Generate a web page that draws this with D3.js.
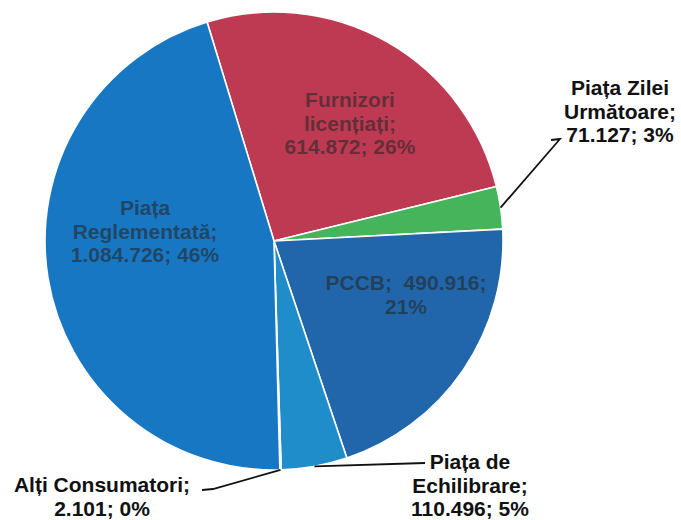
<!DOCTYPE html>
<html>
<head>
<meta charset="utf-8">
<script src="https://cdn.jsdelivr.net/npm/d3@7"></script>
<style>
  body { margin: 0; background: #fff; }
  svg { display: block; }
</style>
</head>
<body>
<svg id="chart"></svg>
<script>
// data, in clockwise order from the top
var names = ["Furnizori licențiați", "Piața Zilei Următoare", "PCCB", "Piața de Echilibrare", "Alți Consumatori", "Piața Reglementată"];
var values = [614872, 71127, 490916, 110496, 2101, 1084726];
var valueLabels = ["614.872", "71.127", "490.916", "110.496", "2.101", "1.084.726"];
var pctLabels = ["26%", "3%", "21%", "5%", "0%", "46%"];
var labelLines = [
  ["Furnizori", "licențiați;", "614.872; 26%"],
  ["Piața Zilei", "Următoare;", "71.127; 3%"],
  ["PCCB;  490.916;", "21%"],
  ["Piața de", "Echilibrare;", "110.496; 5%"],
  ["Alți Consumatori;", "2.101; 0%"],
  ["Piața", "Reglementată;", "1.084.726; 46%"]
];
var colors = ["#be3a52", "#46b45a", "#2166aa", "#1f8dc9", "#c8c8f0", "#1877c3"];

var width = 681, height = 520;
var cx = 274, cy = 241, radius = 229;
var lineH = 23.5;

// where the labels sit (relative to pie centre); inside = text drawn on the slice
var labelPos = [
  {x: 76, y: -134, inside: true},
  {x: 346, y: -146, inside: false, line: [[286, -102], [277, -101]]},
  {x: 132, y: 49, inside: true},
  {x: 196, y: 228, inside: false, line: [[151, 222]]},
  {x: -172, y: 251, inside: false, line: [[-61, 248], [-72, 249]]},
  {x: -129, y: -26, inside: true}
];

var svg = d3.select("#chart")
  .attr("width", width)
  .attr("height", height);

var g = svg.append("g")
  .attr("transform", "translate(" + cx + "," + cy + ")");

var startA = -17 * Math.PI / 180;
var pie = d3.pie()
  .sort(null)
  .value(function(d) { return d; })
  .startAngle(startA)
  .endAngle(startA + 2 * Math.PI);

var arc = d3.arc().innerRadius(0).outerRadius(radius);

var arcs = pie(values);

g.selectAll("path.slice")
  .data(arcs)
  .enter()
  .append("path")
    .attr("class", "slice")
    .attr("d", arc)
    .attr("fill", function(d, i) { return colors[i]; })
    .attr("stroke", "#fff")
    .attr("stroke-width", 1.6)
    .attr("stroke-linejoin", "round");

// leader lines for the outside labels
arcs.forEach(function(d, i) {
  var p = labelPos[i];
  if (p.inside) return;
  var a = (d.startAngle + d.endAngle) / 2;
  var pts = [[Math.sin(a) * radius, -Math.cos(a) * radius]].concat(p.line);
  g.append("path")
    .attr("d", d3.line()(pts))
    .attr("fill", "none")
    .attr("stroke", "#111")
    .attr("stroke-width", 1.8);
});

// labels
arcs.forEach(function(d, i) {
  var p = labelPos[i];
  var t = g.append("text")
    .attr("text-anchor", "middle")
    .attr("font-family", "'Liberation Sans', Arial, sans-serif")
    .attr("font-weight", "bold")
    .attr("font-size", "21px")
    .attr("fill", p.inside ? "#262626" : "#111")
    .attr("fill-opacity", p.inside ? 0.6 : 1);
  labelLines[i].forEach(function(s, k) {
    t.append("tspan")
      .attr("x", p.x)
      .attr("y", p.y + k * lineH)
      .attr("xml:space", "preserve")
      .text(s);
  });
});
</script>
</body>
</html>
